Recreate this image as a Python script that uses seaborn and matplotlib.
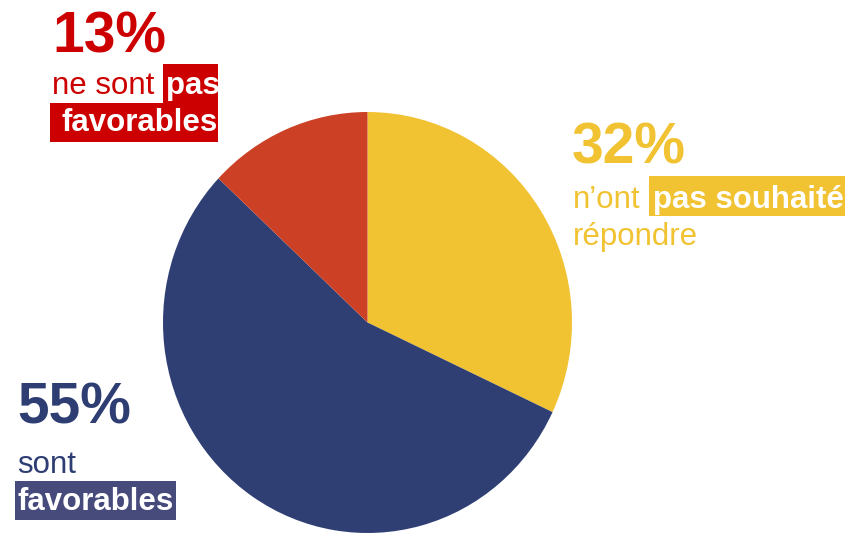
import matplotlib
matplotlib.use("Agg")
import matplotlib.pyplot as plt
from matplotlib.patches import Rectangle
import seaborn as sns

# Données du graphique
categories = ["n’ont pas souhaité répondre", "sont favorables", "ne sont pas favorables"]
valeurs = [32, 55, 13]
couleurs = ["#F1C232", "#2F3F74", "#CC4125"]

W, H = 848, 535

sns.set_style("white")
plt.rcParams["font.family"] = ["Liberation Sans", "DejaVu Sans"]

fig = plt.figure(figsize=(W / 100, H / 100), dpi=100)


def px(x, y):
    # coordonnées pixel (origine en haut à gauche) -> coordonnées figure
    return x / W, 1 - y / H


# Camembert (légèrement étiré verticalement comme l'original)
ax = fig.add_axes([163 / W, 1 - 533 / H, 409 / W, 421 / H])
ax.pie(valeurs, colors=couleurs, startangle=90, counterclock=False,
       wedgeprops=dict(linewidth=0))
ax.set_aspect("auto")
ax.set_xlim(-1, 1)
ax.set_ylim(-1, 1)
ax.axis("off")


def surligner(x0, y0, x1, y1, couleur):
    fx, fy = px(x0, y1)
    fig.add_artist(Rectangle((fx, fy), (x1 - x0) / W, (y1 - y0) / H,
                             transform=fig.transFigure, facecolor=couleur,
                             edgecolor="none", zorder=1))


def texte(x, y, s, couleur, taille, gras=False):
    fx, fy = px(x, y)
    fig.text(fx, fy, s, color=couleur, fontsize=taille,
             fontweight="bold" if gras else "normal",
             ha="left", va="baseline", zorder=2)


rouge = "#CC0000"
jaune = couleurs[0]
bleu = "#2E3E73"
bleu_fond = "#474B7C"
grand, petit = 41, 22.5

# Bloc rouge (haut gauche)
surligner(163, 64, 218, 103, rouge)
surligner(50, 103, 218, 142, rouge)
texte(52, 52, f"{valeurs[2]}%", rouge, grand, True)
texte(52, 94, "ne sont", rouge, petit)
texte(166, 94, "pas", "white", petit, True)
texte(61, 131, "favorables", "white", petit, True)

# Bloc jaune (droite)
surligner(649, 176, 845, 216, jaune)
texte(572, 163, f"{valeurs[0]}%", jaune, grand, True)
texte(573, 208, "n’ont", jaune, petit)
texte(653, 208, "pas souhaité", "white", petit, True)
texte(573, 245, "répondre", jaune, petit)

# Bloc bleu (bas gauche)
surligner(15, 481, 176, 520, bleu_fond)
texte(17, 424, f"{valeurs[1]}%", bleu, grand, True)
texte(17, 473, "sont", bleu, petit)
texte(17, 510, "favorables", "white", petit, True)

fig.savefig("out.png", dpi=100)
